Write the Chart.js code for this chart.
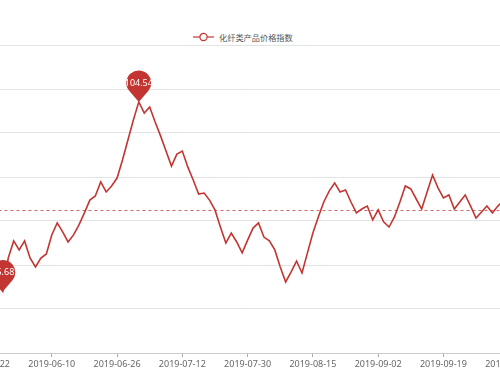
<!DOCTYPE html>
<html>
<head>
<meta charset="utf-8">
<script src="https://cdn.jsdelivr.net/npm/chart.js@4.4.1/dist/chart.umd.min.js"></script>
<style>
  html, body { margin: 0; padding: 0; background: #fff; }
  body { width: 500px; height: 375px; overflow: hidden; position: relative; }
  #chart { position: absolute; left: -60px; top: 0; }
  #legend {
    position: absolute; left: 193px; top: 30px; height: 14px;
    display: flex; align-items: center;
    font-family: "Noto Sans CJK SC", "Noto Sans", sans-serif; font-size: 8.2px; color: #555;
  }
  #legend svg { margin-right: 5px; }
</style>
</head>
<body>
<div id="legend">
  <svg width="21" height="10"><line x1="0" y1="5" x2="21" y2="5" stroke="#c23531" stroke-width="1.2"/><circle cx="10.5" cy="5" r="3.6" fill="#fff" stroke="#c23531" stroke-width="1.2"/></svg>
  <span>化纤类产品价格指数</span>
</div>
<canvas id="chart" width="620" height="375"></canvas>
<script>
const seriesName = "化纤类产品价格指数";

const dates = [
  "2019-05-22", "2019-05-23", "2019-05-24", "2019-05-27", "2019-05-28", "2019-05-29", "2019-05-30", "2019-05-31",
  "2019-06-03", "2019-06-04", "2019-06-05", "2019-06-06", "2019-06-10", "2019-06-11", "2019-06-12", "2019-06-13",
  "2019-06-14", "2019-06-17", "2019-06-18", "2019-06-19", "2019-06-20", "2019-06-21", "2019-06-24", "2019-06-25",
  "2019-06-26", "2019-06-27", "2019-06-28", "2019-07-01", "2019-07-02", "2019-07-03", "2019-07-04", "2019-07-05",
  "2019-07-08", "2019-07-09", "2019-07-10", "2019-07-11", "2019-07-12", "2019-07-15", "2019-07-16", "2019-07-17",
  "2019-07-18", "2019-07-19", "2019-07-22", "2019-07-23", "2019-07-24", "2019-07-25", "2019-07-26", "2019-07-29",
  "2019-07-30", "2019-07-31", "2019-08-01", "2019-08-02", "2019-08-05", "2019-08-06", "2019-08-07", "2019-08-08",
  "2019-08-09", "2019-08-12", "2019-08-13", "2019-08-14", "2019-08-15", "2019-08-16", "2019-08-19", "2019-08-20",
  "2019-08-21", "2019-08-22", "2019-08-23", "2019-08-26", "2019-08-27", "2019-08-28", "2019-08-29", "2019-08-30",
  "2019-09-02", "2019-09-03", "2019-09-04", "2019-09-05", "2019-09-06", "2019-09-09", "2019-09-10", "2019-09-11",
  "2019-09-12", "2019-09-16", "2019-09-17", "2019-09-18", "2019-09-19", "2019-09-20", "2019-09-23", "2019-09-24",
  "2019-09-25", "2019-09-26", "2019-09-27", "2019-09-30", "2019-10-08", "2019-10-09", "2019-10-10", "2019-10-11",
  "2019-10-14"
];

const indexValues = [
  96.68, 96.26, 95.98, 95.68, 97.24, 98.04, 97.62, 98.04,
  97.24, 96.82, 97.24, 97.43, 98.32, 98.88, 98.46, 97.99,
  98.32, 98.79, 99.35, 99.95, 100.14, 100.80, 100.33, 100.61,
  100.98, 101.82, 102.76, 103.69, 104.54, 104.02, 104.30, 103.60,
  102.95, 102.24, 101.54, 102.10, 102.24, 101.50, 100.89, 100.23,
  100.28, 99.95, 99.49, 98.69, 97.94, 98.41, 97.99, 97.48,
  98.08, 98.64, 98.88, 98.22, 98.04, 97.62, 96.82, 96.12,
  96.59, 97.10, 96.54, 97.48, 98.41, 99.16, 99.86, 100.37,
  100.75, 100.33, 100.42, 99.86, 99.35, 99.53, 99.67, 99.02,
  99.49, 98.93, 98.69, 99.16, 99.86, 100.61, 100.47, 100.00,
  99.53, 100.33, 101.12, 100.52, 100.05, 100.19, 99.53, 99.86,
  100.19, 99.67, 99.11, 99.39, 99.67, 99.35, 99.67, 99.91,
  100.05
];

const averageValue = 99.49;
const labelEvery = 12;

const red = "#c23531";

// dashed average line, under the series
const avgLine = {
  id: "avgLine",
  beforeDatasetsDraw(chart) {
    const { ctx, chartArea, scales } = chart;
    const y = Math.round(scales.y.getPixelForValue(averageValue)) + 0.5;
    ctx.save();
    ctx.strokeStyle = "rgba(194, 53, 49, 0.75)";
    ctx.lineWidth = 1;
    ctx.setLineDash([3, 3]);
    ctx.beginPath();
    ctx.moveTo(chartArea.left, y);
    ctx.lineTo(chartArea.right, y);
    ctx.stroke();
    ctx.restore();
  }
};

// pin markers on max and min
function drawPin(ctx, x, y, text) {
  const r = 12.5, d = 19;
  const cy = y - d;
  const a = Math.acos(r / d);
  ctx.save();
  ctx.fillStyle = red;
  ctx.beginPath();
  ctx.moveTo(x, y);
  ctx.arc(x, cy, r, Math.PI / 2 + a, Math.PI / 2 - a + Math.PI * 2);
  ctx.closePath();
  ctx.fill();
  ctx.fillStyle = "#fff";
  ctx.font = "9px 'Noto Sans', sans-serif";
  ctx.textAlign = "center";
  ctx.textBaseline = "middle";
  ctx.fillText(text, x, cy + 0.5);
  ctx.restore();
}

const pins = {
  id: "pins",
  afterDatasetsDraw(chart) {
    const { ctx, scales } = chart;
    const maxV = Math.max(...indexValues);
    const minV = Math.min(...indexValues);
    [maxV, minV].forEach((v) => {
      const i = indexValues.indexOf(v);
      drawPin(ctx, scales.x.getPixelForValue(i), scales.y.getPixelForValue(v), v.toFixed(2));
    });
  }
};

new Chart(document.getElementById("chart"), {
  type: "line",
  data: {
    labels: dates,
    datasets: [
      {
        label: seriesName,
        data: indexValues,
        borderColor: red,
        borderWidth: 1.6,
        pointRadius: 0,
        tension: 0,
        fill: false
      }
    ]
  },
  options: {
    responsive: false,
    animation: false,
    layout: { padding: { top: 45, left: 46.5, right: 51.3, bottom: 0 } },
    plugins: { legend: { display: false }, tooltip: { enabled: false } },
    scales: {
      x: {
        type: "category",
        offset: false,
        grid: { display: true, drawOnChartArea: false, drawTicks: true, tickLength: 4, color: "#aaa" },
        border: { display: true, color: "#ccc" },
        ticks: {
          autoSkip: false,
          maxRotation: 0,
          padding: 2,
          color: "#666",
          font: { family: "'Noto Sans', sans-serif", size: 9 },
          callback(v) { return this.getLabelForValue(v); }
        },
        afterBuildTicks(axis) {
          axis.ticks = axis.ticks.filter((t) => t.value % labelEvery === 0);
        },
        afterFit(axis) { axis.height = 22; }
      },
      y: {
        min: 92.8,
        max: 107.2,
        ticks: { display: false, count: 8 },
        grid: { color: "#e3e3e3", lineWidth: 1, drawTicks: false },
        border: { display: false },
        afterFit(axis) { axis.width = 0; }
      }
    }
  },
  plugins: [avgLine, pins]
});
</script>
</body>
</html>
